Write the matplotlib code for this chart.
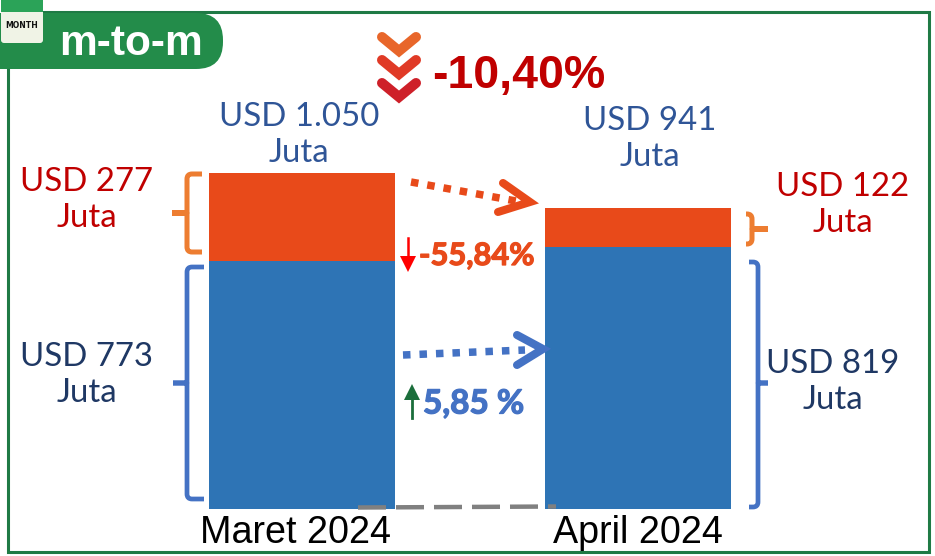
import matplotlib
matplotlib.use("Agg")
import matplotlib.pyplot as plt
from matplotlib.patches import Rectangle, FancyBboxPatch, Polygon, PathPatch
from matplotlib.path import Path
import matplotlib.patheffects as pe

periods = ["Maret 2024", "April 2024"]
blue_values = [773, 819]
orange_values = [277, 122]
total_labels = ["USD 1.050\nJuta", "USD 941\nJuta"]
orange_labels = ["USD 277\nJuta", "USD 122\nJuta"]
blue_labels = ["USD 773\nJuta", "USD 819\nJuta"]
change_total = "-10,40%"
change_orange = "-55,84%"
change_blue = "5,85 %"

W, H = 935, 556
fig = plt.figure(figsize=(W/100, H/100), dpi=100, facecolor="white")

# bars
BOT, SCALE = 509, 0.3203
ax = fig.add_axes([0, (H-BOT)/H, 1, BOT/H], zorder=2)
ax.patch.set_alpha(0)
ax.set_ylim(0, BOT/SCALE)
ax.set_xlim(-302/336, (W-302)/336)
ax.axis("off")
xs = list(range(len(periods)))
ax.bar(xs, blue_values, width=0.5536, color="#2E74B5")
ax.bar(xs, orange_values, bottom=blue_values, width=0.5536, color="#E84A1A")

top = fig.add_axes([0, 0, 1, 1], zorder=3)
top.patch.set_alpha(0)
top.set_xlim(0, W); top.set_ylim(H, 0); top.axis("off")

GREEN = "#1F7A45"
top.add_patch(Rectangle((8, 12), 921, 540, fill=False, ec=GREEN, lw=2.2, zorder=1))
# badge
top.add_patch(FancyBboxPatch((-40, 13), 263, 56, boxstyle="round,pad=0,rounding_size=27",
                             fc="#238C4A", ec="none", zorder=2))
top.add_patch(FancyBboxPatch((1, 0), 42, 43, boxstyle="round,pad=0,rounding_size=3",
                             fc="#F0F3E6", ec="none", zorder=3))
top.add_patch(Rectangle((1, 0), 42, 12, fc="#2BA358", ec="none", zorder=3))
top.text(22, 26, "MONTH", fontsize=5.6, fontweight="bold", ha="center", va="center",
         family="DejaVu Sans", color="#111111", zorder=4)
top.text(131, 44, "m-to-m", fontsize=30.6, fontweight="bold", ha="center", va="center",
         family="Liberation Sans", color="white", zorder=4)

# chevrons
for cy, c in zip([37, 60, 83], ["#E8662A", "#E03A26", "#CE2029"]):
    top.plot([382, 399, 416], [cy, cy+14, cy], color=c, lw=7.2,
             solid_capstyle="round", solid_joinstyle="miter", zorder=4)
top.text(432, 76, change_total, fontsize=33.5, fontweight="bold", ha="left", va="center",
         family="Liberation Sans", color="#C00000")

FS = 23.8
LS = 1.23
def lab(x, y, s, c):
    top.text(x, y, s, fontsize=FS, ha="center", va="center", family="Lato", color=c, linespacing=LS)

lab(299, 135, total_labels[0], "#2F5597")
lab(650, 139, total_labels[1], "#2F5597")
lab(87, 200, orange_labels[0], "#C00000")
lab(843, 205, orange_labels[1], "#C00000")
lab(87, 375, blue_labels[0], "#1F3864")
lab(833, 382, blue_labels[1], "#1F3864")

# braces
def brace(xtip, xspine, xend, y0, y1, ym, c, lw):
    d = 1 if xend > xspine else -1
    r = 5
    verts = [(xend, y0), (xspine+d*r, y0), (xspine, y0), (xspine, y0+r), (xspine, ym), (xtip, ym),
             (xspine, ym), (xspine, y1-r), (xspine, y1), (xspine+d*r, y1), (xend, y1)]
    codes = [Path.MOVETO, Path.LINETO, Path.CURVE3, Path.CURVE3, Path.LINETO, Path.LINETO,
             Path.LINETO, Path.LINETO, Path.CURVE3, Path.CURVE3, Path.LINETO]
    top.add_patch(PathPatch(Path(verts, codes), fill=False, ec=c, lw=lw, capstyle="butt", joinstyle="bevel"))

brace(172, 187, 202, 174, 252, 213, "#ED7D31", 3.6)
brace(173, 187, 204, 267, 499, 383, "#4472C4", 3.4)
brace(768, 752, 746, 214, 244, 229, "#ED7D31", 3.6)
brace(768, 758, 749, 262, 507, 383, "#4472C4", 3.4)

# dotted arrows
top.plot([411, 516], [182, 201], color="#E84A1A", lw=5.4, dashes=(1.0, 1.2), dash_capstyle="butt")
top.plot([503, 530, 498], [183, 202, 212], color="#E84A1A", lw=5.8, solid_capstyle="round", solid_joinstyle="miter")
top.plot([403, 525], [355, 350], color="#4472C4", lw=5.4, dashes=(1.0, 1.2), dash_capstyle="butt")
top.plot([517, 543, 517], [335, 349, 365], color="#4472C4", lw=5.8, solid_capstyle="round", solid_joinstyle="miter")

# small arrows
top.plot([408, 408], [238, 258], color="#FF0000", lw=1.8)
top.add_patch(Polygon([(400, 256), (416, 256), (408, 272)], fc="#FF0000", ec="none"))
top.plot([412, 412], [400, 418], color="#1B6E3B", lw=2)
top.add_patch(Polygon([(404, 400), (420, 400), (412, 384)], fc="#1B6E3B", ec="none"))
t1 = top.text(419, 256, change_orange, fontsize=22.2, fontweight="bold", ha="left", va="center",
              family="Lato", color="#E84A1A")
t2 = top.text(423, 404, change_blue, fontsize=24, fontweight="bold", ha="left", va="center",
              family="Lato", color="#4472C4")
t1.set_path_effects([pe.withStroke(linewidth=0.9, foreground="#E84A1A")])
t2.set_path_effects([pe.withStroke(linewidth=0.9, foreground="#4472C4")])

# baseline dashed
top.plot([358, 556], [507.5, 506.5], color="#808080", lw=3.2, dashes=(6.3, 2.25), dash_capstyle="butt", zorder=5)

# category labels
top.text(296, 533, periods[0], fontsize=27.2, ha="center", va="center", family="Liberation Sans", color="black")
top.text(638, 533, periods[1], fontsize=27.2, ha="center", va="center", family="Liberation Sans", color="black")

fig.savefig("out.png", dpi=100)
